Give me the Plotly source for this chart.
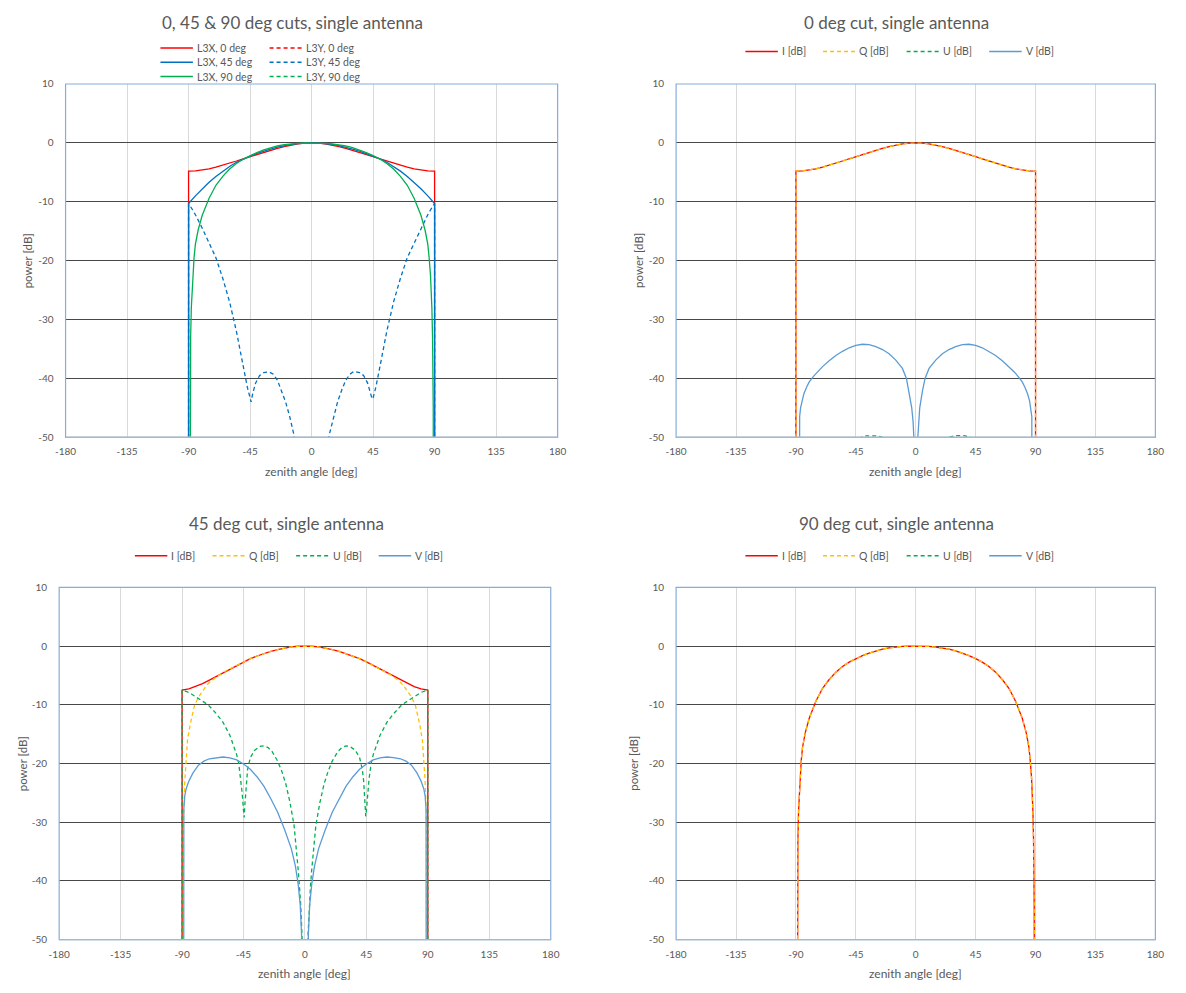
import plotly.graph_objects as go

W, H = 1186, 993

# Level used for samples that lie below the -50 dB floor of the axes
F = -100

# ---------------------------------------------------------------------------
# Angle grids [deg]
# ---------------------------------------------------------------------------
ANG_EDGE = [-90, -90, -85, -80, -75, -70, -65, -60, -55, -50, -45, -40, -35, -30,
            -25, -20, -15, -10, -5, 0, 5, 10, 15, 20, 25, 30, 35, 40, 45, 50, 55,
            60, 65, 70, 75, 80, 85, 90, 90]

ANG_90CUT = [-89.2, -89, -88.5, -88, -87, -86, -85, -83, -80, -77, -75, -70, -65,
             -60, -55, -50, -45, -40, -35, -30, -25, -20, -15, -10, -5, 0, 5, 10,
             15, 20, 25, 30, 35, 40, 45, 50, 55, 60, 65, 70, 75, 77, 80, 83, 85,
             86, 87, 88, 88.5, 89, 89.2]

ANG_NULL = [-90, 0, 90]

# ---------------------------------------------------------------------------
# Single antenna, co-/cross-polar cuts [dB]
# ---------------------------------------------------------------------------
L3X_0 = [F, -4.80, -4.74, -4.60, -4.40, -4.12, -3.80, -3.45, -3.08, -2.70, -2.33,
         -1.95, -1.60, -1.27, -0.95, -0.65, -0.38, -0.17, -0.04, 0.00, -0.04,
         -0.17, -0.38, -0.65, -0.95, -1.27, -1.60, -1.95, -2.33, -2.70, -3.08,
         -3.45, -3.80, -4.12, -4.40, -4.60, -4.74, -4.80, F]

L3Y_0 = [F, F, F]

L3X_45 = [F, -10.3, -9.0, -7.8, -6.7, -5.7, -4.8, -4.0, -3.3, -2.72, -2.25, -1.8,
          -1.4, -1.05, -0.74, -0.48, -0.27, -0.12, -0.03, 0.0, -0.03, -0.12,
          -0.27, -0.48, -0.74, -1.05, -1.4, -1.8, -2.25, -2.72, -3.3, -4.0, -4.8,
          -5.7, -6.7, -7.8, -9.0, -10.3, F]

L3Y_45_ANG = [-90, -90, -87, -85, -80, -75, -70, -65, -60, -55, -50, -47, -45,
              -44.3, -43, -41, -38, -35, -31, -28, -25, -22, -19, -16, -13, -11,
              -8, 8, 11, 13, 16, 19, 22, 25, 28, 31, 35, 38, 41, 43, 44.3, 45, 47,
              50, 55, 60, 65, 70, 75, 80, 85, 87, 90, 90]
L3Y_45 = [F, -10.3, -11.4, -12.2, -14.5, -17.0, -19.5, -23.0, -27.0, -32.0, -38.0,
          -41.5, -43.3, -44.0, -42.5, -40.8, -39.5, -39.0, -38.9, -39.3, -40.3,
          -42.0, -44.0, -46.5, -49.5, -53.0, F, F, -53.0, -49.5, -46.5, -44.0,
          -42.0, -40.3, -39.3, -38.8, -39.0, -39.5, -40.8, -42.5, -43.5, -43.3,
          -41.5, -38.0, -32.0, -27.0, -23.0, -19.5, -17.0, -14.5, -12.2, -11.4,
          -10.3, F]

L3X_90 = [F, -45, -33, -28, -22.5, -19.5, -17.2, -14.8, -12.3, -10.5, -9.4, -7.2,
          -5.7, -4.45, -3.5, -2.75, -2.15, -1.65, -1.2, -0.82, -0.53, -0.32, -0.17,
          -0.07, -0.02, 0.0, -0.02, -0.07, -0.17, -0.32, -0.53, -0.82, -1.2, -1.65,
          -2.15, -2.75, -3.5, -4.45, -5.7, -7.2, -9.4, -10.5, -12.3, -14.8, -17.2,
          -19.5, -22.5, -28, -33, -45, F]

L3Y_90 = [F, F, F]

# ---------------------------------------------------------------------------
# Stokes parameters, 0 deg cut [dB]
# ---------------------------------------------------------------------------
I_0 = L3X_0
Q_0 = L3X_0

U_0_ANG = [-90, -60, -45, -41, -37, -33, -29, -25, -20, 0, 20, 25, 29, 33, 37, 41,
           45, 60, 90]
U_0 = [F, -60, -50.8, -50.0, -49.75, -49.7, -49.75, -50.0, -50.8, F, -50.8, -50.0,
       -49.75, -49.7, -49.75, -50.0, -50.8, -60, F]

V_0_ANG = [-87.4, -87.2, -86.5, -85.5, -84, -82, -80, -77, -74, -70, -65, -60, -55,
           -50, -45, -40, -35, -30, -25, -20, -15, -10, -7, -5, -3, -2, -1, 1, 2,
           3, 5, 7, 10, 15, 20, 25, 30, 35, 40, 45, 50, 55, 60, 65, 70, 74, 77, 80,
           82, 84, 85.5, 86.5, 87.2, 87.4]
V_0 = [F, -46.5, -45.0, -43.8, -42.6, -41.5, -40.6, -39.7, -38.9, -38.0, -37.0,
       -36.1, -35.4, -34.8, -34.4, -34.2, -34.25, -34.6, -35.1, -35.8, -36.9, -38.3,
       -40.0, -42.2, -45.0, -47.3, -52.0, -52.0, -47.3, -45.0, -42.2, -40.0, -38.3,
       -36.9, -35.8, -35.1, -34.6, -34.25, -34.2, -34.4, -34.8, -35.4, -36.1,
       -37.0, -38.0, -38.9, -39.7, -40.6, -41.5, -42.6, -43.8, -45.0, -46.5, F]

# ---------------------------------------------------------------------------
# Stokes parameters, 45 deg cut [dB]
# ---------------------------------------------------------------------------
I_45 = [F, -7.5, -7.3, -6.9, -6.4, -5.8, -5.2, -4.5, -3.9, -3.3, -2.7, -2.15, -1.7,
        -1.28, -0.9, -0.6, -0.33, -0.15, -0.04, 0.0, -0.04, -0.15, -0.33, -0.6,
        -0.9, -1.28, -1.7, -2.15, -2.7, -3.3, -3.9, -4.5, -5.2, -5.8, -6.4, -6.9,
        -7.3, -7.5, F]

Q_45_ANG = [-90, -89.5, -89, -88, -87, -86, -84, -81, -78, -75, -72, -69, -66, -63,
            -60, -55, -50, -45, -40, -35, -30, -25, -20, -15, -10, -5, 0, 5, 10,
            15, 20, 25, 30, 35, 40, 45, 50, 55, 60, 63, 66, 69, 72, 75, 78, 81, 84,
            86, 87, 88, 89, 89.5, 90]
Q_45 = [F, -38, -30, -23, -19, -16, -13.3, -10.2, -8.7, -7.6, -6.7, -5.95, -5.45,
        -4.95, -4.5, -3.9, -3.3, -2.7, -2.15, -1.7, -1.28, -0.9, -0.6, -0.33, -0.15,
        -0.04, 0.0, -0.04, -0.15, -0.33, -0.6, -0.9, -1.28, -1.7, -2.15, -2.7, -3.3,
        -3.9, -4.5, -4.95, -5.45, -5.95, -6.7, -7.6, -8.7, -10.2, -13.3, -16, -19,
        -23, -30, -38, F]

U_45_ANG = [-90, -90, -85, -80, -75, -71, -65, -60, -55, -50, -48.5, -47, -46, -45,
            -44.5, -44, -43, -42, -40, -37, -33, -30, -27, -24, -20, -17, -14, -11,
            -8, -6, -5, -4, -3, -2, -1, 1, 2, 3, 4, 5, 6, 8, 11, 14, 17, 20, 24,
            27, 30, 33, 37, 40, 42, 43, 44, 44.5, 45, 46, 47, 48.5, 50, 55, 60, 65,
            71, 75, 80, 85, 90, 90]
U_45 = [F, -7.5, -7.9, -8.6, -9.4, -10.0, -11.5, -13.0, -15.2, -18.5, -20.0, -22.5,
        -25.0, -28.0, -29.2, -27.0, -23.0, -21.0, -19.0, -17.8, -17.1, -17.0, -17.3,
        -18.0, -19.6, -21.3, -23.5, -26.6, -30.5, -35.0, -38.0, -41.0, -44.5,
        -50.5, F, F, -50.5, -44.5, -41.0, -38.0, -35.0, -30.5, -26.6, -23.5, -21.3,
        -19.6, -18.0, -17.3, -17.0, -17.1, -17.8, -19.0, -21.0, -23.0, -27.0,
        -29.0, -28.0, -25.0, -22.5, -20.0, -18.5, -15.2, -13.0, -11.5, -10.0,
        -9.4, -8.6, -7.9, -7.5, F]

V_45_ANG = [-88.9, -88.7, -88, -87, -85, -82, -78, -74, -70, -65, -60, -55, -50,
            -45, -40, -35, -30, -25, -20, -15, -10, -7, -5, -3.5, -2.5, -1.5, 1.5,
            2.5, 3.5, 5, 7, 10, 15, 20, 25, 30, 35, 40, 45, 50, 55, 60, 65, 70, 74,
            78, 82, 85, 87, 88, 88.7, 88.9]
V_45 = [F, -27.7, -25.5, -24.3, -23.0, -21.6, -20.3, -19.6, -19.2, -19.0, -18.9,
        -19.05, -19.4, -20.1, -21.0, -22.3, -23.9, -26.0, -28.3, -31.2, -34.5,
        -37.5, -40.5, -44.0, -49.0, F, F, -49.0, -44.0, -40.5, -37.5, -34.5, -31.2,
        -28.3, -26.0, -23.9, -22.3, -21.0, -20.1, -19.4, -19.05, -18.9, -19.0,
        -19.2, -19.6, -20.3, -21.6, -23.0, -24.3, -25.5, -27.7, F]

# ---------------------------------------------------------------------------
# Stokes parameters, 90 deg cut [dB]
# ---------------------------------------------------------------------------
I_90 = L3X_90
Q_90 = L3X_90
U_90 = [F, F, F]
V_90 = [F, F, F]

# Axis ticks
X_TICKS = [-180, -135, -90, -45, 0, 45, 90, 135, 180]
Y_TICKS = [10, 0, -10, -20, -30, -40, -50]

TITLES = ["0, 45 & 90 deg cuts, single antenna", "0 deg cut, single antenna",
          "45 deg cut, single antenna", "90 deg cut, single antenna"]
CUT_NAMES = ["L3X, 0 deg", "L3Y, 0 deg", "L3X, 45 deg", "L3Y, 45 deg",
             "L3X, 90 deg", "L3Y, 90 deg"]
STOKES_NAMES = ["I [dB]", "Q [dB]", "U [dB]", "V [dB]"]

# ---------------------------------------------------------------------------
# Styling
# ---------------------------------------------------------------------------
RED, ORANGE, GREEN = "#FF0000", "#FFC000", "#00B050"
BLUE, LIGHT_BLUE = "#0070C0", "#5B9BD5"
TEXT = "#595959"
FONT = "Lato, 'Open Sans', sans-serif"
DASH = "4px,3px"
LW = 1.3


def fx(px):
    return px / W


def fy(py):
    return 1 - py / H


stokes_styles = [(RED, "solid"), (ORANGE, DASH), (GREEN, DASH), (LIGHT_BLUE, "solid")]

panels = [
    dict(box=(55.5, 556, 78, 436), title_x=286, title_y=16,
         series=[(CUT_NAMES[0], ANG_EDGE, L3X_0, RED, "solid"),
                 (CUT_NAMES[1], ANG_NULL, L3Y_0, RED, DASH),
                 (CUT_NAMES[2], ANG_EDGE, L3X_45, BLUE, "solid"),
                 (CUT_NAMES[3], L3Y_45_ANG, L3Y_45, BLUE, DASH),
                 (CUT_NAMES[4], ANG_90CUT, L3X_90, GREEN, "solid"),
                 (CUT_NAMES[5], ANG_NULL, L3Y_90, GREEN, DASH)],
         legend=[(152, 41.5), (263, 41.5), (152, 56), (263, 56), (152, 70.5), (263, 70.5)],
         xtitle_y=471, ytitle_x=17),
    dict(box=(676.5, 1164, 78, 436), title_x=901, title_y=16,
         series=[(STOKES_NAMES[0], ANG_EDGE, I_0) + stokes_styles[0],
                 (STOKES_NAMES[1], ANG_EDGE, Q_0) + stokes_styles[1],
                 (STOKES_NAMES[2], U_0_ANG, U_0) + stokes_styles[2],
                 (STOKES_NAMES[3], V_0_ANG, V_0) + stokes_styles[3]],
         legend=[(747, 45), (826, 45), (911, 45), (995, 45)],
         xtitle_y=471, ytitle_x=638),
    dict(box=(49, 549, 588, 945), title_x=280, title_y=523,
         series=[(STOKES_NAMES[0], ANG_EDGE, I_45) + stokes_styles[0],
                 (STOKES_NAMES[1], Q_45_ANG, Q_45) + stokes_styles[1],
                 (STOKES_NAMES[2], U_45_ANG, U_45) + stokes_styles[2],
                 (STOKES_NAMES[3], V_45_ANG, V_45) + stokes_styles[3]],
         legend=[(126, 556), (205, 556), (290, 556), (374, 556)],
         xtitle_y=979, ytitle_x=12),
    dict(box=(676.5, 1164, 588, 945), title_x=901, title_y=523,
         series=[(STOKES_NAMES[0], ANG_90CUT, I_90) + stokes_styles[0],
                 (STOKES_NAMES[1], ANG_90CUT, Q_90) + stokes_styles[1],
                 (STOKES_NAMES[2], ANG_NULL, U_90) + stokes_styles[2],
                 (STOKES_NAMES[3], ANG_NULL, V_90) + stokes_styles[3]],
         legend=[(747, 556), (826, 556), (911, 556), (995, 556)],
         xtitle_y=979, ytitle_x=633),
]

fig = go.Figure()
shapes, annotations = [], []
layout_axes = {}

for k, (panel, title) in enumerate(zip(panels, TITLES), start=1):
    suffix = "" if k == 1 else str(k)
    xa, ya = "x" + suffix, "y" + suffix
    left, right, top, bottom = panel["box"]

    layout_axes["xaxis" + suffix] = dict(
        domain=[fx(left), fx(right)], anchor=ya, range=[-180, 180],
        tickmode="array", tickvals=X_TICKS, ticktext=[str(v) for v in X_TICKS],
        showgrid=True, gridcolor="#D9D9D9", gridwidth=1, zeroline=False,
        showline=False, ticks="outside", ticklen=5, tickcolor="rgba(0,0,0,0)",
        tickfont=dict(family=FONT, size=10, color=TEXT), fixedrange=True)
    layout_axes["yaxis" + suffix] = dict(
        domain=[fy(bottom), fy(top)], anchor=xa, range=[-50, 10],
        tickmode="array", tickvals=Y_TICKS, ticktext=[str(v) for v in Y_TICKS],
        showgrid=True, gridcolor="#484848", gridwidth=1.3, zeroline=False,
        showline=False, ticks="outside", ticklen=9, tickcolor="rgba(0,0,0,0)",
        tickfont=dict(family=FONT, size=10, color=TEXT), fixedrange=True)

    for name, ang, vals, color, dash in panel["series"]:
        fig.add_trace(go.Scatter(
            x=ang, y=vals, name=name, mode="lines", xaxis=xa, yaxis=ya,
            line=dict(color=color, width=LW, dash=dash),
            showlegend=False, hoverinfo="skip"))

    # plot-area frame
    shapes.append(dict(type="rect", xref=xa + " domain", yref=ya + " domain",
                       x0=0, x1=1, y0=0, y1=1, layer="above",
                       line=dict(color="#86ADDA", width=1.2)))
    shapes.append(dict(type="line", xref=xa + " domain", yref=ya + " domain",
                       x0=0, x1=1, y0=0, y1=0, layer="above",
                       line=dict(color="#A9B7C8", width=1.4)))

    # chart title
    annotations.append(dict(text=title, x=fx(panel["title_x"]), y=fy(panel["title_y"]),
                            xref="paper", yref="paper", showarrow=False,
                            xanchor="center", yanchor="middle",
                            font=dict(family=FONT, size=17, color=TEXT)))
    # axis titles
    annotations.append(dict(text="zenith angle [deg]", x=fx((left + right) / 2),
                            y=fy(panel["xtitle_y"]), xref="paper", yref="paper",
                            showarrow=False, xanchor="center", yanchor="middle",
                            font=dict(family=FONT, size=12, color=TEXT)))
    annotations.append(dict(text="power [dB]", x=fx(panel["ytitle_x"]),
                            y=fy((top + bottom) / 2), xref="paper", yref="paper",
                            showarrow=False, xanchor="center", yanchor="middle",
                            textangle=-90,
                            font=dict(family=FONT, size=11.5, color=TEXT)))

    # legend entries: line sample followed by the series name
    for (name, _, _, color, dash), (lx, ly) in zip(panel["series"], panel["legend"]):
        shapes.append(dict(type="line", xref="paper", yref="paper",
                           x0=fx(lx), x1=fx(lx + 33), y0=fy(ly), y1=fy(ly),
                           line=dict(color=color, width=1.5, dash=dash)))
        annotations.append(dict(text=name, x=fx(lx + 35), y=fy(ly), xref="paper",
                                yref="paper", showarrow=False, xanchor="left",
                                yanchor="middle",
                                font=dict(family=FONT, size=10.5, color=TEXT)))

fig.update_layout(
    width=W, height=H, autosize=False,
    margin=dict(l=0, r=0, t=0, b=0),
    paper_bgcolor="white", plot_bgcolor="white",
    shapes=shapes, annotations=annotations, showlegend=False,
    **layout_axes)

fig.write_html("out.html")
